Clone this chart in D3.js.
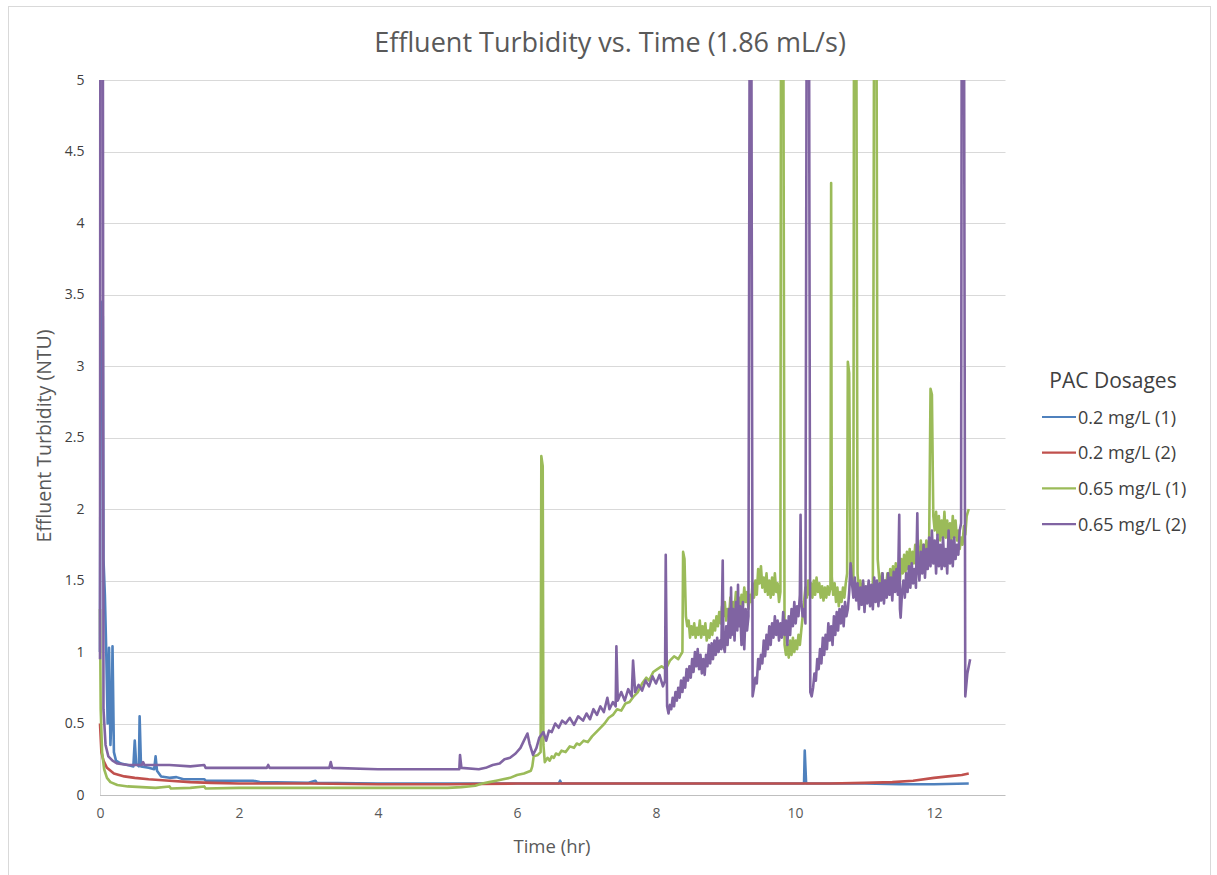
<!DOCTYPE html>
<html>
<head>
<meta charset="utf-8">
<script src="https://cdn.jsdelivr.net/npm/d3@7"></script>
<style>
  html, body { margin: 0; padding: 0; background: #fff; }
  text { font-family: "Open Sans", "Noto Sans", sans-serif; }
</style>
</head>
<body>
<svg id="chart" width="1217" height="875"></svg>
<script>
// ---- data: effluent turbidity (NTU) against run time (hr) ----
const chartTitle = "Effluent Turbidity vs. Time (1.86 mL/s)";
const xTicks = [0, 2, 4, 6, 8, 10, 12];
const yTicks = [0, 0.5, 1, 1.5, 2, 2.5, 3, 3.5, 4, 4.5, 5];
const seriesNames = ["0.2 mg/L (1)", "0.2 mg/L (2)", "0.65 mg/L (1)", "0.65 mg/L (2)"];

const dose02run1 = [[0,1.0],[0.01,3.45],[0.04,3.35],[0.05,1.65],[0.07,1.4],[0.09,1.0],[0.11,0.5],[0.13,1.03],[0.15,0.35],[0.17,0.6],[0.18,1.04],[0.2,0.3],[0.23,0.24],[0.3,0.22],[0.4,0.21],[0.48,0.2],[0.5,0.38],[0.52,0.22],[0.56,0.2],[0.57,0.55],[0.59,0.2],[0.7,0.19],[0.78,0.18],[0.8,0.27],[0.82,0.17],[0.88,0.13],[1.0,0.12],[1.1,0.125],[1.2,0.11],[1.5,0.11],[1.52,0.1],[2.0,0.1],[2.2,0.1],[2.3,0.09],[3.0,0.085],[3.1,0.1],[3.12,0.085],[4.0,0.08],[5.0,0.08],[6.0,0.08],[6.6,0.08],[6.62,0.1],[6.64,0.08],[8.0,0.08],[10.0,0.08],[10.13,0.08],[10.14,0.31],[10.16,0.08],[11.0,0.08],[11.5,0.075],[12.0,0.075],[12.5,0.08]];

const dose02run2 = [[0,0.5],[0.02,0.3],[0.05,0.24],[0.1,0.19],[0.2,0.15],[0.35,0.13],[0.5,0.12],[0.7,0.11],[1.0,0.1],[1.3,0.09],[1.6,0.085],[2.0,0.08],[3.0,0.08],[4.0,0.075],[5.0,0.075],[6.0,0.08],[8.0,0.08],[10.0,0.08],[10.5,0.08],[11.0,0.085],[11.4,0.09],[11.7,0.1],[12.0,0.12],[12.2,0.13],[12.4,0.14],[12.5,0.15]];

const dose065run1 = [[0,1.3],[0.01,0.6],[0.03,0.3],[0.06,0.18],[0.1,0.12],[0.15,0.09],[0.25,0.07],[0.4,0.06],[0.6,0.055],[0.8,0.05],[1.0,0.06],[1.02,0.045],[1.3,0.05],[1.5,0.06],[1.52,0.045],[2.0,0.05],[3.0,0.05],[4.0,0.05],[5.0,0.05],[5.2,0.055],[5.3,0.06],[5.4,0.065],[5.5,0.08],[5.6,0.09],[5.7,0.1],[5.8,0.11],[5.9,0.12],[6.0,0.14],[6.1,0.15],[6.2,0.17],[6.22,0.2],[6.24,0.27],[6.3,0.28],[6.34,0.3],[6.35,2.37],[6.37,2.3],[6.38,0.35],[6.4,0.23],[6.44,0.26],[6.47,0.24],[6.5,0.27],[6.53,0.26],[6.56,0.29],[6.6,0.28],[6.64,0.31],[6.7,0.3],[6.76,0.34],[6.82,0.33],[6.86,0.36],[6.9,0.35],[6.96,0.38],[7.02,0.37],[7.08,0.41],[7.14,0.44],[7.2,0.47],[7.26,0.5],[7.32,0.54],[7.38,0.56],[7.44,0.6],[7.5,0.59],[7.56,0.64],[7.62,0.65],[7.68,0.69],[7.74,0.72],[7.8,0.78],[7.86,0.82],[7.9,0.8],[7.96,0.86],[8.02,0.88],[8.08,0.9],[8.14,0.88],[8.2,0.94],[8.26,0.97],[8.32,0.95],[8.38,1.0],[8.39,1.7],[8.41,1.65],[8.43,1.25],[8.45,1.18],[8.47,1.22],[8.49,1.1],[8.51,1.18],[8.53,1.12],[8.55,1.2],[8.57,1.1],[8.59,1.17],[8.61,1.12],[8.63,1.22],[8.65,1.1],[8.67,1.18],[8.69,1.12],[8.71,1.2],[8.73,1.08],[8.75,1.15],[8.77,1.1],[8.79,1.2],[8.81,1.12],[8.83,1.22],[8.85,1.15],[8.87,1.25],[8.89,1.18],[8.91,1.28],[8.93,1.2],[8.95,1.32],[8.97,1.25],[8.99,1.35],[9.01,1.22],[9.03,1.3],[9.05,1.25],[9.07,1.38],[9.09,1.28],[9.11,1.35],[9.13,1.3],[9.15,1.42],[9.17,1.3],[9.19,1.38],[9.21,1.28],[9.23,1.4],[9.25,1.32],[9.27,1.45],[9.29,1.35],[9.31,1.42],[9.33,1.3],[9.35,1.4],[9.37,1.35],[9.39,1.48],[9.41,1.38],[9.43,1.5],[9.45,1.4],[9.47,1.58],[9.49,1.48],[9.51,1.6],[9.53,1.45],[9.55,1.52],[9.57,1.42],[9.59,1.55],[9.61,1.4],[9.63,1.5],[9.65,1.38],[9.67,1.52],[9.69,1.4],[9.71,1.55],[9.73,1.42],[9.75,1.48],[9.77,1.35],[9.79,1.42],[9.8,6],[9.83,6],[9.85,1.05],[9.87,0.98],[9.89,1.05],[9.91,0.96],[9.93,1.08],[9.95,0.98],[9.97,1.1],[9.99,1.0],[10.01,1.08],[10.03,1.02],[10.05,1.12],[10.07,1.05],[10.09,1.15],[10.11,1.25],[10.13,1.35],[10.15,1.45],[10.17,1.38],[10.19,1.5],[10.21,1.4],[10.23,1.48],[10.25,1.38],[10.27,1.5],[10.29,1.4],[10.31,1.52],[10.33,1.42],[10.35,1.48],[10.37,1.38],[10.39,1.46],[10.41,1.36],[10.43,1.45],[10.45,1.38],[10.47,1.46],[10.49,1.4],[10.51,1.45],[10.52,4.28],[10.53,1.52],[10.55,1.4],[10.57,1.48],[10.59,1.35],[10.61,1.45],[10.63,1.32],[10.65,1.42],[10.67,1.35],[10.69,1.45],[10.71,1.38],[10.73,1.48],[10.75,1.55],[10.76,3.03],[10.78,2.95],[10.8,1.55],[10.82,1.6],[10.84,1.5],[10.85,6],[10.88,6],[10.9,1.55],[10.92,1.42],[10.94,1.5],[10.96,1.38],[10.98,1.48],[11.0,1.36],[11.02,1.45],[11.04,1.38],[11.06,1.48],[11.08,1.4],[11.1,1.45],[11.12,1.42],[11.14,6],[11.17,6],[11.19,1.65],[11.21,1.52],[11.23,1.45],[11.25,1.55],[11.27,1.42],[11.29,1.5],[11.31,1.45],[11.33,1.55],[11.35,1.45],[11.37,1.58],[11.39,1.48],[11.41,1.6],[11.43,1.5],[11.45,1.62],[11.47,1.52],[11.49,1.6],[11.51,1.5],[11.53,1.65],[11.55,1.55],[11.57,1.68],[11.59,1.56],[11.61,1.7],[11.63,1.58],[11.65,1.72],[11.67,1.6],[11.69,1.7],[11.71,1.62],[11.73,1.75],[11.75,1.6],[11.77,1.72],[11.79,1.65],[11.81,1.78],[11.83,1.66],[11.85,1.75],[11.87,1.68],[11.89,1.78],[11.91,1.7],[11.93,1.75],[11.95,2.84],[11.97,2.8],[11.99,1.95],[12.01,1.85],[12.03,1.98],[12.05,1.82],[12.07,1.95],[12.09,1.78],[12.11,1.92],[12.13,1.8],[12.15,1.98],[12.17,1.8],[12.19,1.92],[12.21,1.76],[12.23,1.9],[12.25,1.78],[12.27,1.95],[12.29,1.8],[12.31,1.92],[12.33,1.78],[12.35,1.85],[12.37,1.72],[12.39,1.8],[12.41,1.75],[12.43,1.88],[12.45,1.82],[12.47,1.95],[12.5,2.0]];

const dose065run2 = [[0,0.95],[0.005,6],[0.04,6],[0.05,0.6],[0.08,0.35],[0.12,0.27],[0.18,0.24],[0.25,0.22],[0.4,0.21],[0.6,0.21],[0.62,0.23],[0.64,0.21],[1.0,0.21],[1.3,0.2],[1.5,0.21],[1.52,0.19],[2.0,0.19],[2.4,0.19],[2.42,0.21],[2.44,0.19],[3.0,0.19],[3.3,0.19],[3.32,0.23],[3.34,0.19],[4.0,0.18],[4.5,0.18],[5.0,0.18],[5.17,0.18],[5.18,0.28],[5.2,0.19],[5.45,0.18],[5.55,0.19],[5.65,0.21],[5.75,0.22],[5.82,0.25],[5.9,0.26],[5.98,0.29],[6.05,0.33],[6.1,0.38],[6.15,0.43],[6.18,0.36],[6.23,0.28],[6.28,0.33],[6.32,0.4],[6.38,0.44],[6.42,0.38],[6.46,0.45],[6.5,0.44],[6.55,0.5],[6.6,0.47],[6.65,0.52],[6.7,0.5],[6.76,0.54],[6.82,0.49],[6.88,0.55],[6.95,0.52],[7.0,0.57],[7.05,0.53],[7.1,0.6],[7.15,0.56],[7.2,0.62],[7.25,0.58],[7.3,0.68],[7.33,0.6],[7.38,0.65],[7.42,0.62],[7.43,1.04],[7.45,0.66],[7.5,0.72],[7.55,0.66],[7.6,0.74],[7.65,0.69],[7.67,0.94],[7.7,0.72],[7.75,0.77],[7.8,0.73],[7.85,0.8],[7.9,0.76],[7.95,0.83],[8.0,0.78],[8.05,0.84],[8.1,0.76],[8.13,0.8],[8.14,1.68],[8.16,0.62],[8.18,0.57],[8.2,0.63],[8.22,0.6],[8.24,0.68],[8.26,0.62],[8.28,0.72],[8.3,0.66],[8.32,0.75],[8.34,0.68],[8.36,0.8],[8.38,0.72],[8.4,0.82],[8.42,0.75],[8.44,0.88],[8.46,0.8],[8.48,0.9],[8.5,0.82],[8.52,0.95],[8.54,0.86],[8.56,1.0],[8.58,0.9],[8.6,1.02],[8.62,0.88],[8.64,0.98],[8.66,0.85],[8.68,0.95],[8.7,0.84],[8.72,0.98],[8.74,0.9],[8.76,1.05],[8.78,0.92],[8.8,1.06],[8.82,0.95],[8.84,1.08],[8.86,0.98],[8.88,1.1],[8.9,1.0],[8.92,1.08],[8.94,1.02],[8.96,1.64],[8.97,1.05],[8.99,1.0],[9.01,1.18],[9.03,1.05],[9.05,1.3],[9.07,1.1],[9.08,1.45],[9.09,1.12],[9.11,1.3],[9.13,1.08],[9.15,1.35],[9.17,1.15],[9.18,1.47],[9.19,1.18],[9.21,1.32],[9.23,1.05],[9.25,1.35],[9.27,1.02],[9.29,1.3],[9.31,1.15],[9.33,1.25],[9.35,6],[9.37,6],[9.39,0.69],[9.41,0.75],[9.43,0.82],[9.45,0.78],[9.47,0.95],[9.49,0.88],[9.51,0.98],[9.53,0.92],[9.55,1.08],[9.57,0.97],[9.59,1.12],[9.61,1.02],[9.63,1.18],[9.65,1.05],[9.67,1.2],[9.69,1.1],[9.71,1.25],[9.73,1.12],[9.75,1.22],[9.77,1.08],[9.79,1.2],[9.81,1.1],[9.83,1.28],[9.85,1.12],[9.87,1.22],[9.89,1.05],[9.91,1.25],[9.93,1.12],[9.95,1.3],[9.97,1.18],[9.99,1.35],[10.01,1.2],[10.03,1.32],[10.05,1.25],[10.07,1.4],[10.08,1.96],[10.09,1.35],[10.11,1.25],[10.13,1.3],[10.15,1.2],[10.17,6],[10.2,6],[10.22,0.72],[10.24,0.69],[10.26,0.75],[10.28,0.85],[10.3,0.8],[10.32,0.95],[10.34,0.88],[10.36,1.02],[10.38,0.92],[10.4,1.1],[10.42,0.98],[10.44,1.12],[10.46,1.02],[10.48,1.2],[10.5,1.08],[10.52,1.18],[10.54,1.05],[10.56,1.25],[10.58,1.12],[10.6,1.28],[10.62,1.15],[10.64,1.3],[10.66,1.2],[10.68,1.32],[10.7,1.18],[10.72,1.35],[10.74,1.25],[10.76,1.3],[10.78,1.42],[10.8,1.62],[10.82,1.48],[10.84,1.38],[10.86,1.52],[10.88,1.36],[10.9,1.48],[10.92,1.3],[10.94,1.45],[10.96,1.33],[10.98,1.5],[11.0,1.28],[11.02,1.46],[11.04,1.34],[11.06,1.5],[11.08,1.32],[11.1,1.47],[11.12,1.3],[11.14,1.52],[11.16,1.35],[11.18,1.5],[11.2,1.32],[11.22,1.48],[11.24,1.36],[11.26,1.55],[11.28,1.34],[11.3,1.5],[11.32,1.38],[11.34,1.55],[11.36,1.4],[11.38,1.52],[11.4,1.36],[11.42,1.56],[11.44,1.42],[11.46,1.58],[11.48,1.4],[11.5,1.96],[11.51,1.3],[11.52,1.24],[11.54,1.42],[11.56,1.5],[11.58,1.38],[11.6,1.55],[11.62,1.42],[11.64,1.6],[11.66,1.45],[11.68,1.62],[11.7,1.48],[11.72,1.58],[11.74,1.45],[11.76,1.97],[11.77,1.6],[11.79,1.5],[11.81,1.7],[11.83,1.55],[11.85,1.75],[11.87,1.52],[11.89,1.72],[11.91,1.58],[11.93,1.8],[11.95,1.6],[11.97,1.85],[11.99,1.62],[12.01,1.78],[12.03,1.55],[12.05,1.82],[12.07,1.6],[12.09,1.75],[12.11,1.58],[12.13,1.8],[12.15,1.6],[12.17,1.72],[12.19,1.55],[12.21,1.85],[12.23,1.62],[12.25,1.78],[12.27,1.6],[12.29,1.8],[12.31,1.65],[12.33,1.75],[12.35,1.68],[12.37,1.85],[12.39,1.9],[12.4,6],[12.43,6],[12.45,0.69],[12.48,0.85],[12.52,0.95]];

const seriesData = [dose02run1, dose02run2, dose065run1, dose065run2];
const seriesColors = ["#4F81BD", "#C0504D", "#9BBB59", "#8064A2"];

// ---- layout ----
const svg = d3.select("#chart");
const plot = { left: 100, right: 1003.5, top: 80, bottom: 795 };

const x = d3.scaleLinear().domain([0, 13]).range([plot.left, plot.right]);
const y = d3.scaleLinear().domain([0, 5]).range([plot.bottom, plot.top]);

// chart frame
svg.append("rect")
  .attr("x", 8.5).attr("y", 6.5)
  .attr("width", 1202).attr("height", 875)
  .attr("fill", "#fff").attr("stroke", "#d9d9d9").attr("stroke-width", 1);

// title
svg.append("text")
  .attr("x", 610).attr("y", 52)
  .attr("text-anchor", "middle")
  .attr("fill", "#595959")
  .style("font-size", "27px")
  .text(chartTitle);

// horizontal gridlines
svg.append("g")
  .selectAll("line")
  .data(yTicks.filter(d => d > 0))
  .join("line")
  .attr("x1", plot.left).attr("x2", plot.right + 2)
  .attr("y1", d => Math.round(y(d)) + 0.5).attr("y2", d => Math.round(y(d)) + 0.5)
  .attr("stroke", "#d9d9d9").attr("stroke-width", 1);

// axes
const xAxis = d3.axisBottom(x).tickValues(xTicks).tickSize(0).tickPadding(13).tickFormat(d3.format("d"));
const yAxis = d3.axisLeft(y).tickValues(yTicks).tickSize(0).tickPadding(16).tickFormat(d => String(d));

const gx = svg.append("g").attr("transform", `translate(0,${plot.bottom + 0.5})`).call(xAxis);
gx.select(".domain").attr("stroke", "#bfbfbf").attr("d", `M${plot.left},0H${plot.right + 2}`);
gx.selectAll("text").attr("fill", "#595959").style("font-size", "14px");

const gy = svg.append("g").attr("transform", `translate(${plot.left + 0.5},0)`).call(yAxis);
gy.select(".domain").attr("stroke", "#d9d9d9").attr("d", `M0,${plot.top}V${plot.bottom}`);
gy.selectAll("text").attr("fill", "#404040").style("font-size", "14px");

// axis titles
svg.append("text")
  .attr("x", 552).attr("y", 853)
  .attr("text-anchor", "middle").attr("fill", "#595959")
  .style("font-size", "18.5px")
  .text("Time (hr)");

svg.append("text")
  .attr("transform", "translate(51,436) rotate(-90)")
  .attr("text-anchor", "middle").attr("fill", "#595959")
  .style("font-size", "19.5px")
  .text("Effluent Turbidity (NTU)");

// series lines, clipped to the plot area
svg.append("clipPath").attr("id", "plot-clip")
  .append("rect")
  .attr("x", plot.left - 2).attr("y", plot.top)
  .attr("width", plot.right - plot.left + 4).attr("height", plot.bottom - plot.top + 2);

const line = d3.line().x(d => x(d[0])).y(d => y(d[1]));

svg.append("g").attr("clip-path", "url(#plot-clip)")
  .selectAll("path")
  .data(seriesData)
  .join("path")
  .attr("d", line)
  .attr("fill", "none")
  .attr("stroke", (d, i) => seriesColors[i])
  .attr("stroke-width", 2.6)
  .attr("stroke-linejoin", "round");

// legend
const legend = svg.append("g");
legend.append("text")
  .attr("x", 1113).attr("y", 388)
  .attr("text-anchor", "middle").attr("fill", "#404040")
  .style("font-size", "21px")
  .text("PAC Dosages");

const items = legend.selectAll("g.item")
  .data(seriesNames)
  .join("g").attr("class", "item")
  .attr("transform", (d, i) => `translate(0,${417 + i * 35.7})`);

items.append("line")
  .attr("x1", 1042).attr("x2", 1076)
  .attr("y1", 0).attr("y2", 0)
  .attr("stroke", (d, i) => seriesColors[i]).attr("stroke-width", 2.2);

items.append("text")
  .attr("x", 1078).attr("y", 6.5)
  .attr("fill", "#404040")
  .style("font-size", "18px")
  .text(d => d);
</script>
</body>
</html>
